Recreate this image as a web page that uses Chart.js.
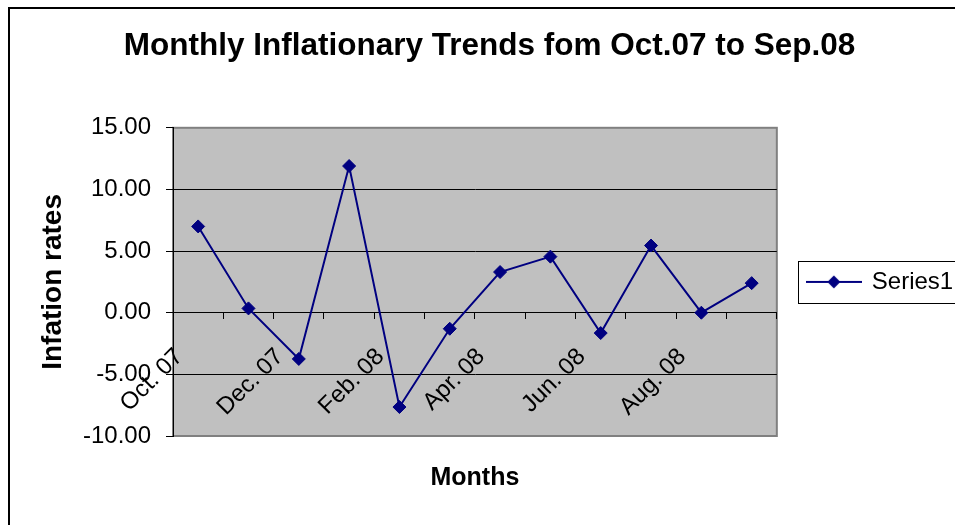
<!DOCTYPE html>
<html>
<head>
<meta charset="utf-8">
<script src="https://cdn.jsdelivr.net/npm/chart.js@4/dist/chart.umd.min.js"></script>
<style>
html,body{margin:0;padding:0;overflow:hidden;background:#fff;}
canvas{display:block;}
</style>
</head>
<body>
<canvas id="c" width="957" height="525"></canvas>
<script>
// ---- data ----
const categories = ['Oct. 07','Nov. 07','Dec. 07','Jan. 08','Feb. 08','Mar. 08','Apr. 08','May. 08','Jun. 08','Jul. 08','Aug. 08','Sep. 08'];
const inflationRates = [7.0, 0.35, -3.75, 11.9, -7.65, -1.3, 3.3, 4.55, -1.65, 5.45, 0.0, 2.4];
const seriesName = 'Series1';
const yTicks = [-10, -5, 0, 5, 10, 15];
const chartTitle = 'Monthly Inflationary Trends fom Oct.07 to Sep.08';
const xTitle = 'Months';
const yTitle = 'Infation rates';

const NAVY = '#000080';
const FONT = "'Liberation Sans', Arial, sans-serif";

// legend glyph: line with diamond
function legendGlyph() {
  const c = document.createElement('canvas');
  c.width = 56; c.height = 16;
  const g = c.getContext('2d');
  g.strokeStyle = NAVY; g.lineWidth = 2;
  g.beginPath(); g.moveTo(0, 8); g.lineTo(56, 8); g.stroke();
  g.fillStyle = NAVY;
  g.beginPath(); g.moveTo(28, 1.5); g.lineTo(34.5, 8); g.lineTo(28, 14.5); g.lineTo(21.5, 8); g.closePath(); g.fill();
  return c;
}
const glyph = legendGlyph();

const decor = {
  id: 'decor',
  beforeDraw(chart) {
    const ctx = chart.ctx, a = chart.chartArea;
    ctx.save();
    ctx.fillStyle = '#fff';
    ctx.fillRect(0, 0, chart.width, chart.height);
    // outer frame
    ctx.strokeStyle = '#000'; ctx.lineWidth = 2;
    ctx.beginPath();
    ctx.moveTo(9, chart.height + 5); ctx.lineTo(9, 8); ctx.lineTo(chart.width + 5, 8);
    ctx.stroke();
    // plot area
    ctx.fillStyle = '#C0C0C0';
    ctx.fillRect(a.left, a.top, a.right - a.left, a.bottom - a.top);
    ctx.strokeStyle = '#808080'; ctx.lineWidth = 2;
    ctx.strokeRect(a.left, a.top, a.right - a.left, a.bottom - a.top);
    ctx.restore();
  },
  afterDraw(chart) {
    const lg = chart.legend;
    if (!lg || !lg.legendHitBoxes || !lg.legendHitBoxes.length) return;
    const hb = lg.legendHitBoxes[0];
    const cy = hb.top + hb.height / 2;
    const ctx = chart.ctx;
    ctx.save();
    ctx.strokeStyle = '#000'; ctx.lineWidth = 1;
    ctx.strokeRect(Math.round(lg.left) + 0.5, Math.round(cy - 21) + 0.5, 400, 42);
    ctx.restore();
  }
};

new Chart(document.getElementById('c'), {
  type: 'line',
  data: {
    labels: categories,
    datasets: [{
      label: seriesName,
      data: inflationRates,
      borderColor: NAVY,
      backgroundColor: NAVY,
      borderWidth: 2,
      pointStyle: 'rectRot',
      pointRadius: 6.5,
      pointBorderWidth: 1,
      pointBackgroundColor: NAVY,
      pointBorderColor: NAVY,
      tension: 0,
      fill: false,
      xAxisID: 'x',
      yAxisID: 'y'
    }]
  },
  options: {
    responsive: false,
    animation: false,
    layout: { padding: { left: 27, right: 5, top: 0, bottom: 0 } },
    plugins: {
      title: {
        display: true,
        text: chartTitle,
        color: '#000',
        font: { family: FONT, size: 31.5, weight: 'bold' },
        padding: { top: 27, bottom: 63 }
      },
      legend: {
        position: 'right',
        fullSize: false,
        labels: {
          color: '#000',
          font: { family: FONT, size: 24 },
          usePointStyle: true,
          pointStyleWidth: 52,
          padding: 10,
          generateLabels: (chart) => [{
            text: seriesName,
            pointStyle: glyph,
            fillStyle: NAVY,
            strokeStyle: NAVY,
            lineWidth: 0,
            datasetIndex: 0,
            hidden: false
          }]
        }
      },
      tooltip: { enabled: false }
    },
    scales: {
      x: {
        type: 'category',
        position: { y: 0 },
        offset: true,
        afterFit: (s) => { s.height = 0; },
        grid: { display: true, drawOnChartArea: false, drawTicks: true, tickLength: 6, tickColor: '#000', offset: true },
        border: { display: true, color: '#000', width: 1 },
        ticks: {
          autoSkip: false,
          minRotation: 45, maxRotation: 45,
          padding: 24,
          labelOffset: -19,
          color: '#000',
          font: { family: FONT, size: 24 },
          callback: (v, i) => (i % 2 === 0 ? categories[i] : '')
        }
      },
      x2: {
        type: 'category',
        position: 'bottom',
        grid: { display: false, drawTicks: false },
        border: { display: false },
        ticks: { display: false },
        title: {
          display: true,
          text: xTitle,
          color: '#000',
          font: { family: FONT, size: 25, weight: 'bold' },
          padding: { top: 27, bottom: 32 }
        }
      },
      y: {
        type: 'linear',
        position: 'left',
        min: -10, max: 15,
        afterFit: (s) => { s.width = 146; },
        afterBuildTicks: (s) => { s.ticks = yTicks.map(v => ({ value: v })); },
        grid: {
          color: (c) => (c.tick && (c.tick.value === 15 || c.tick.value === -10 || c.tick.value === 0)) ? 'rgba(0,0,0,0)' : '#000',
          tickColor: '#000',
          tickLength: 7,
          lineWidth: 1
        },
        border: { display: true, color: '#000', width: 1 },
        ticks: {
          padding: 15,
          color: '#000',
          font: { family: FONT, size: 24 },
          callback: (v) => Number(v).toFixed(2)
        },
        title: {
          display: true,
          text: yTitle,
          color: '#000',
          font: { family: FONT, size: 28, weight: 'bold' },
          padding: { top: 9, bottom: 0 }
        }
      },
      yR: {
        type: 'linear',
        position: 'right',
        afterFit: (s) => { s.width = 21; },
        grid: { display: false, drawTicks: false },
        border: { display: false },
        ticks: { display: false }
      }
    }
  },
  plugins: [decor]
});
</script>
</body>
</html>
